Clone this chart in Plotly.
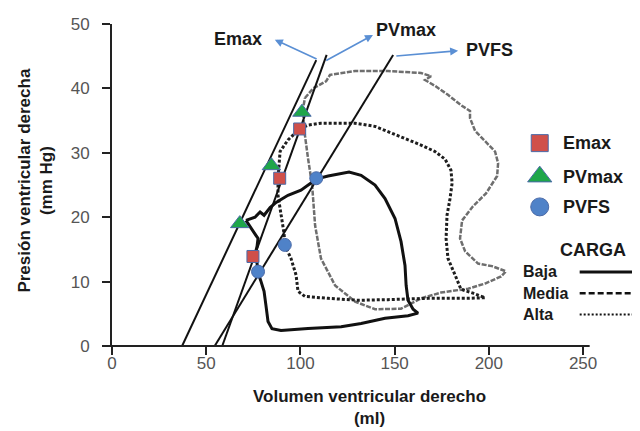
import plotly.graph_objects as go

# ---------------- data (volume ml, pressure mm Hg) ----------------
baja_v = [71.1, 75.9, 78.6, 80.7, 83.9, 87.1, 93.4, 100.3, 105.6, 109.3, 114.7, 121.6, 125.8, 132.2,
          139.6, 144.9, 150.2, 153.4, 155.5, 156.1, 157.1, 159.8, 162.4, 157.1, 144.9, 132.2, 121.6,
          104.0, 89.7, 84.9, 82.8, 81.7, 80.7, 79.1, 77.5, 77.0, 75.9, 77.0, 77.5, 75.4, 73.2, 71.1]
baja_p = [19.5, 20.0, 20.8, 20.3, 21.5, 22.3, 23.4, 24.2, 25.3, 26.0, 26.4, 26.8, 27.0, 26.5,
          25.0, 22.9, 19.8, 16.2, 12.5, 9.4, 7.1, 5.7, 5.1, 4.7, 4.3, 3.5, 3.0,
          2.7, 2.4, 2.7, 3.8, 6.3, 8.5, 10.0, 11.4, 12.8, 14.2, 15.5, 16.7, 17.6, 18.6, 19.5]

media_v = [99.6, 104.0, 110.9, 129.0, 139.6, 151.8, 164.0, 171.4, 176.8, 179.9, 180.5, 179.4, 177.8,
           177.3, 178.3, 182.1, 185.2, 191.6, 198.0, 189.0, 167.7, 146.5, 130.6, 114.7, 102.4, 98.7,
           97.7, 95.0, 91.8, 91.3, 89.7, 88.1, 88.1, 88.6, 89.2, 93.4, 99.6]
media_p = [33.7, 34.3, 34.6, 34.6, 34.1, 32.7, 31.2, 30.2, 29.0, 27.3, 25.3, 22.9, 20.3,
           16.7, 13.6, 11.0, 8.8, 8.2, 7.5, 7.4, 7.4, 7.2, 7.1, 7.4, 7.7, 8.5,
           11.0, 13.6, 15.6, 17.5, 20.3, 23.4, 26.0, 28.4, 30.2, 32.0, 33.7]

alta_v = [102.4, 106.7, 113.6, 115.7, 129.0, 146.5, 164.0, 169.3, 166.1, 171.4, 178.3, 185.2, 190.0,
          190.0, 192.7, 198.0, 203.3, 204.9, 204.4, 198.5, 191.6, 185.8, 184.7, 187.4, 194.3, 201.7,
          209.1, 206.5, 198.0, 189.0, 174.6, 164.0, 153.4, 139.6, 129.0, 118.4, 110.9, 107.8, 106.2,
          104.0, 101.9, 101.4, 102.4]
alta_p = [38.5, 40.0, 41.1, 42.1, 42.7, 42.7, 42.4, 41.9, 41.3, 40.4, 39.0, 37.4, 36.5,
          35.4, 33.4, 31.8, 30.2, 28.4, 26.4, 23.7, 21.7, 19.5, 16.7, 14.7, 12.8, 12.4,
          11.6, 10.8, 9.7, 8.9, 8.3, 7.4, 5.8, 5.7, 6.9, 9.4, 13.6, 18.7, 25.0,
          29.2, 33.8, 36.9, 38.5]

# end-systolic relation lines
line1_v = [37.2, 108.4]
line1_p = [0, 44.4]
line2_v = [58.5, 113.9]
line2_p = [0, 45.2]
line3_v = [54.5, 149.2]
line3_p = [0, 45.2]

# points
emax_v = [74.8, 89.0, 99.6]
emax_p = [13.9, 26.05, 33.7]
pvmax_v = [67.8, 84.6, 100.8]
pvmax_p = [19.0, 28.0, 36.3]
pvfs_v = [77.5, 91.7, 108.4]
pvfs_p = [11.55, 15.7, 26.05]

x_ticks = [0, 50, 100, 150, 200, 250]
y_ticks = [0, 10, 20, 30, 40, 50]

FONT = "Arial, Liberation Sans, sans-serif"
RED = "#d0504a"
GREEN = "#1fa64a"
BLUE = "#4f82c8"
EDGE = "#4a6aa8"
ARROW = "#5a8fd4"

fig = go.Figure()

# loops
fig.add_trace(go.Scatter(x=alta_v, y=alta_p, mode="lines",
                         line=dict(color="#6e6e6e", width=2.5, dash="5px,1.5px")))
fig.add_trace(go.Scatter(x=media_v, y=media_p, mode="lines",
                         line=dict(color="#1e1e1e", width=3, dash="3px,2px")))
fig.add_trace(go.Scatter(x=baja_v, y=baja_p, mode="lines",
                         line=dict(color="#111111", width=3)))

# lines
for lv, lp in [(line1_v, line1_p), (line2_v, line2_p), (line3_v, line3_p)]:
    fig.add_trace(go.Scatter(x=lv, y=lp, mode="lines", line=dict(color="#111111", width=2)))

# markers
fig.add_trace(go.Scatter(x=emax_v, y=emax_p, mode="markers",
                         marker=dict(symbol="square", size=12, color=RED, line=dict(color=EDGE, width=1))))
fig.add_trace(go.Scatter(x=pvmax_v, y=pvmax_p, mode="markers",
                         marker=dict(symbol="triangle-up", size=16, color=GREEN, line=dict(color=EDGE, width=1))))
fig.add_trace(go.Scatter(x=pvfs_v, y=pvfs_p, mode="markers",
                         marker=dict(symbol="circle", size=13, color=BLUE, line=dict(color=EDGE, width=1))))

# marker legend
leg_x = 227.0
leg_names = ["Emax", "PVmax", "PVFS"]
leg_y = [31.5, 26.3, 21.6]
leg_sym = [("square", 17, RED), ("triangle-up", 21, GREEN), ("circle", 18, BLUE)]
for name, yy, (sym, sz, col) in zip(leg_names, leg_y, leg_sym):
    fig.add_trace(go.Scatter(x=[leg_x], y=[yy], mode="markers", cliponaxis=False,
                             marker=dict(symbol=sym, size=sz, color=col, line=dict(color=EDGE, width=1))))
    fig.add_annotation(x=238.3, y=yy, text="<b>%s</b>" % name, showarrow=False, xanchor="left",
                       font=dict(size=18, color="#1a1a1a", family=FONT))

# CARGA legend
fig.add_annotation(x=255.3, y=14.9, text="<b>CARGA</b>", showarrow=False,
                   font=dict(size=18, color="#1a1a1a", family=FONT))
carga = [("Baja", 11.5, "solid", 3), ("Media", 8.2, "6px,3px", 2.5), ("Alta", 4.9, "2px,2px", 2)]
for name, yy, dash, w in carga:
    fig.add_annotation(x=217.3, y=yy, text="<b>%s</b>" % name, showarrow=False, xanchor="left",
                       font=dict(size=16, color="#1a1a1a", family=FONT))
    fig.add_shape(type="line", x0=248.2, x1=279.2, y0=yy, y1=yy, xref="x", yref="y",
                  line=dict(color="#111111", width=w, dash=dash))

# top labels and arrows
arrows = [((86.4, 47.56), (109.4, 44.45)), ((138.5, 48.3), (112.9, 44.2)), ((183.7, 45.85), (150.1, 45.0))]
for (hx, hy), (tx, ty) in arrows:
    fig.add_annotation(x=hx, y=hy, ax=tx, ay=ty, xref="x", yref="y", axref="x", ayref="y",
                       text="", showarrow=True, arrowhead=2, arrowsize=1, arrowwidth=1.6,
                       arrowcolor=ARROW)
for txt, xx, yy in [("Emax", 67.0, 47.6), ("PVmax", 156.2, 49.1), ("PVFS", 200.5, 46.0)]:
    fig.add_annotation(x=xx, y=yy, text="<b>%s</b>" % txt, showarrow=False,
                       font=dict(size=18, color="#1a1a1a", family=FONT))

# x axis line (drawn manually so it stops after 250)
fig.add_shape(type="line", xref="paper", yref="paper", x0=-0.008, x1=253.5 / 283.4, y0=0, y1=0,
              line=dict(color="#222222", width=2))

# axis titles
fig.add_annotation(xref="paper", yref="paper", x=-0.144, y=0.514, textangle=-90,
                   xanchor="center", yanchor="middle",
                   text="<b>Presión ventricular derecha</b><br><b>(mm Hg)</b>", showarrow=False,
                   font=dict(size=17, color="#1a1a1a", family=FONT))
fig.add_annotation(xref="paper", yref="paper", x=0.483, y=-0.192,
                   xanchor="center", yanchor="middle",
                   text="<b>Volumen ventricular derecho</b><br><b>(ml)</b>", showarrow=False,
                   font=dict(size=17, color="#1a1a1a", family=FONT))

fig.update_layout(
    width=640, height=431,
    margin=dict(l=104, r=2, t=16, b=93),
    paper_bgcolor="white", plot_bgcolor="white",
    showlegend=False,
    font=dict(family=FONT),
)
fig.update_xaxes(range=[0, 283.4], tickvals=x_ticks, ticktext=[str(t) for t in x_ticks],
                 ticks="outside", ticklen=8, tickwidth=2, tickcolor="#222222",
                 showline=False, showgrid=False, zeroline=False, ticklabelstandoff=-6,
                 tickfont=dict(size=17, color="#555555", family=FONT))
fig.update_yaxes(range=[0, 50], tickvals=y_ticks, ticktext=[str(t) for t in y_ticks],
                 ticks="outside", ticklen=8, tickwidth=2, tickcolor="#222222",
                 showline=True, linecolor="#222222", linewidth=2,
                 showgrid=False, zeroline=False, ticklabelstandoff=9,
                 tickfont=dict(size=17, color="#555555", family=FONT))

fig.write_html("out.html")
